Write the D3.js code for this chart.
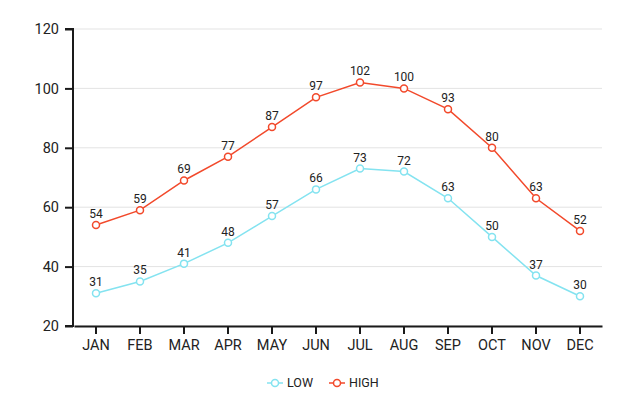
<!DOCTYPE html>
<html>
  <script src="https://d3js.org/d3.v7.js"></script>
  <body style="margin:0">
    <svg id="myPlot" width="640" height="400"></svg>
    <script>
      // Data
      const months = ["JAN", "FEB", "MAR", "APR", "MAY", "JUN", "JUL", "AUG", "SEP", "OCT", "NOV", "DEC"];
      const low = [31, 35, 41, 48, 57, 66, 73, 72, 63, 50, 37, 30];
      const high = [54, 59, 69, 77, 87, 97, 102, 100, 93, 80, 63, 52];
      const yTicks = [20, 40, 60, 80, 100, 120];
      const seriesNames = ["LOW", "HIGH"];
      const colors = ["#84e3f0", "#f2492b"];

      const svg = d3.select("#myPlot");
      const font = "Roboto, sans-serif";
      const plotLeft = 73, plotRight = 602, plotTop = 29, plotBottom = 326;

      const x = d3.scaleBand().domain(months).range([plotLeft + 1, plotRight]);
      const y = d3.scaleLinear().domain([20, 120]).range([plotBottom, plotTop]);

      // gridlines
      svg.append("g")
        .selectAll("line")
        .data(yTicks)
        .enter()
        .append("line")
        .attr("x1", plotLeft)
        .attr("x2", plotRight)
        .attr("y1", function (d) { return y(d); })
        .attr("y2", function (d) { return y(d); })
        .attr("stroke", "#e3e3e3")
        .attr("stroke-width", 1);

      // Y Axis
      const yAxis = svg.append("g")
        .attr("transform", "translate(" + plotLeft + ",0)")
        .call(d3.axisLeft(y).tickValues(yTicks).tickSize(8).tickPadding(6));
      // X Axis
      const xAxis = svg.append("g")
        .attr("transform", "translate(0," + plotBottom + ")")
        .call(d3.axisBottom(x).tickSize(8).tickPadding(6).tickSizeOuter(0));

      [yAxis, xAxis].forEach(function (a) {
        a.select(".domain").attr("stroke", "#1a1a1a").attr("stroke-width", 2);
        a.selectAll(".tick line").attr("stroke", "#1a1a1a").attr("stroke-width", 2);
        a.selectAll("text").attr("font-family", font).attr("font-size", 14.5).attr("fill", "#222");
      });
      yAxis.select(".domain").attr("d", "M-8," + plotTop + "H0V" + plotBottom + "H-8");

      // Lines and points
      const line = d3.line()
        .x(function (d, i) { return x(months[i]) + x.bandwidth() / 2; })
        .y(function (d) { return y(d); });

      [low, high].forEach(function (vals, s) {
        const g = svg.append("g");
        g.append("path")
          .datum(vals)
          .attr("d", line)
          .attr("fill", "none")
          .attr("stroke", colors[s])
          .attr("stroke-width", 1.5);
        g.selectAll("circle")
          .data(vals)
          .enter()
          .append("circle")
          .attr("cx", function (d, i) { return x(months[i]) + x.bandwidth() / 2; })
          .attr("cy", function (d) { return y(d); })
          .attr("r", 3.5)
          .attr("fill", "#fff")
          .attr("stroke", colors[s])
          .attr("stroke-width", 1.5);
        g.selectAll("text")
          .data(vals)
          .enter()
          .append("text")
          .attr("x", function (d, i) { return x(months[i]) + x.bandwidth() / 2; })
          .attr("y", function (d) { return y(d) - 7; })
          .attr("text-anchor", "middle")
          .attr("font-family", font)
          .attr("font-size", 12)
          .attr("fill", "#222")
          .text(function (d) { return d; });
      });

      // Legend
      const legendX = [267, 329];
      seriesNames.forEach(function (name, s) {
        const lg = svg.append("g").attr("transform", "translate(" + legendX[s] + ",383)");
        lg.append("line").attr("x1", 0).attr("x2", 16)
          .attr("stroke", colors[s]).attr("stroke-width", 1.5);
        lg.append("circle").attr("cx", 8).attr("r", 3.5)
          .attr("fill", "#fff").attr("stroke", colors[s]).attr("stroke-width", 1.5);
        lg.append("text").attr("x", 20).attr("dy", "0.35em")
          .attr("font-family", font).attr("font-size", 12.5).attr("fill", "#222")
          .text(name);
      });
    </script>
  </body>
</html>
